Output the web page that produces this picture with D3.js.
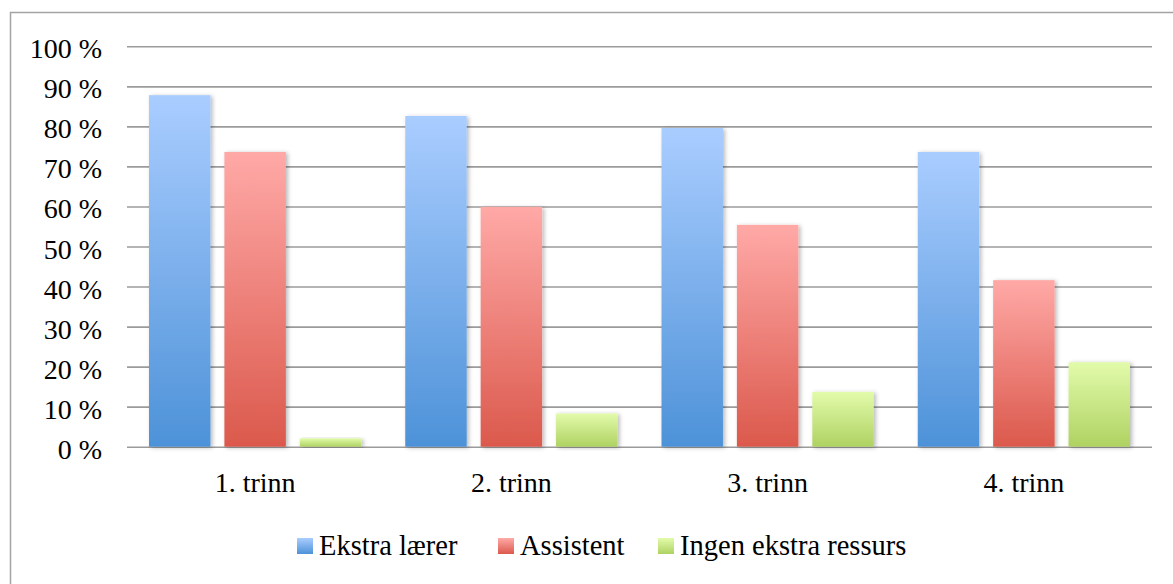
<!DOCTYPE html>
<html>
<head>
<meta charset="utf-8">
<script src="https://cdn.jsdelivr.net/npm/d3@7"></script>
<style>
  html, body { margin: 0; padding: 0; background: #fff; }
  svg { display: block; font-family: "Liberation Serif", "DejaVu Serif", serif; }
</style>
</head>
<body>
<svg id="chart" width="1173" height="584"></svg>
<script>
// Share of classes using each kind of extra resource, by grade level (percent)
const categories = ["1. trinn", "2. trinn", "3. trinn", "4. trinn"];
const seriesNames = ["Ekstra lærer", "Assistent", "Ingen ekstra ressurs"];
const ekstraLaerer = [87.8, 82.6, 79.6, 73.6];
const assistent = [73.6, 59.9, 55.4, 41.6];
const ingenEkstra = [2.1, 8.3, 13.7, 21.1];
const yTicks = [0, 10, 20, 30, 40, 50, 60, 70, 80, 90, 100];

const seriesValues = [ekstraLaerer, assistent, ingenEkstra];

// gradient stops per series: [top, bottom]
const gradients = [
  ["#aacdff", "#4d92d8"],
  ["#ffa9a7", "#db594c"],
  ["#e2fbab", "#afd262"]
];

const svg = d3.select("#chart");
const defs = svg.append("defs");

gradients.forEach((g, i) => {
  const lg = defs.append("linearGradient")
    .attr("id", "grad" + i)
    .attr("x1", 0).attr("y1", 0).attr("x2", 0).attr("y2", 1);
  lg.append("stop").attr("offset", "0%").attr("stop-color", g[0]);
  lg.append("stop").attr("offset", "100%").attr("stop-color", g[1]);
});

const shadow = defs.append("filter").attr("id", "barShadow")
  .attr("x", "-20%").attr("y", "-10%").attr("width", "140%").attr("height", "120%");
shadow.append("feDropShadow")
  .attr("dx", 2).attr("dy", 1).attr("stdDeviation", 2.2)
  .attr("flood-color", "#000").attr("flood-opacity", 0.28);

// outer frame (runs off the right and bottom edges)
svg.append("path")
  .attr("d", "M1180,12.5 H10.5 V600")
  .attr("fill", "none")
  .attr("stroke", "#a3a3a3")
  .attr("stroke-width", 1.5);

const plotLeft = 127, plotRight = 1152;
const y = d3.scaleLinear().domain([0, 100]).range([446.7, 46.3]);

const x0 = d3.scaleBand().domain(categories).range([plotLeft, plotRight]).padding(0);
const groupPad = 22;
const x1 = d3.scaleBand().domain(seriesNames)
  .range([groupPad, x0.bandwidth() - groupPad])
  .paddingInner(0.185).paddingOuter(0);

// gridlines
const yAxis = d3.axisLeft(y).tickValues(yTicks).tickSize(-(plotRight - plotLeft)).tickFormat("");
const grid = svg.append("g")
  .attr("transform", `translate(${plotLeft},0)`)
  .call(yAxis);
grid.select(".domain").remove();
grid.selectAll(".tick line")
  .attr("stroke", "#9b9b9b")
  .attr("stroke-width", 1.6);

// y tick labels
svg.append("g").selectAll("text")
  .data(yTicks)
  .join("text")
  .attr("x", 102)
  .attr("y", d => y(d) + 12)
  .attr("text-anchor", "end")
  .attr("font-size", 28)
  .attr("fill", "#000")
  .text(d => d + " %");

// bars
const groups = svg.append("g").selectAll("g")
  .data(categories)
  .join("g")
  .attr("transform", d => `translate(${x0(d)},0)`);

groups.selectAll("rect")
  .data((c, ci) => seriesNames.map((s, si) => ({ s, si, v: seriesValues[si][ci] })))
  .join("rect")
  .attr("x", d => x1(d.s))
  .attr("width", x1.bandwidth())
  .attr("y", d => y(d.v))
  .attr("height", d => y(0) - y(d.v))
  .attr("fill", d => `url(#grad${d.si})`)
  .attr("filter", "url(#barShadow)");

// category labels
svg.append("g").selectAll("text")
  .data(categories)
  .join("text")
  .attr("x", d => x0(d) + x0.bandwidth() / 2)
  .attr("y", 492)
  .attr("text-anchor", "middle")
  .attr("font-size", 28)
  .attr("fill", "#000")
  .text(d => d);

// legend
const legendX = [297, 498, 658];
const legend = svg.append("g").selectAll("g")
  .data(seriesNames)
  .join("g")
  .attr("transform", (d, i) => `translate(${legendX[i]},0)`);
legend.append("rect")
  .attr("x", 0).attr("y", 538)
  .attr("width", 16).attr("height", 16)
  .attr("fill", (d, i) => `url(#grad${i})`);
legend.append("text")
  .attr("x", 22).attr("y", 555)
  .attr("font-size", 28.5)
  .attr("fill", "#000")
  .text(d => d);
</script>
</body>
</html>
